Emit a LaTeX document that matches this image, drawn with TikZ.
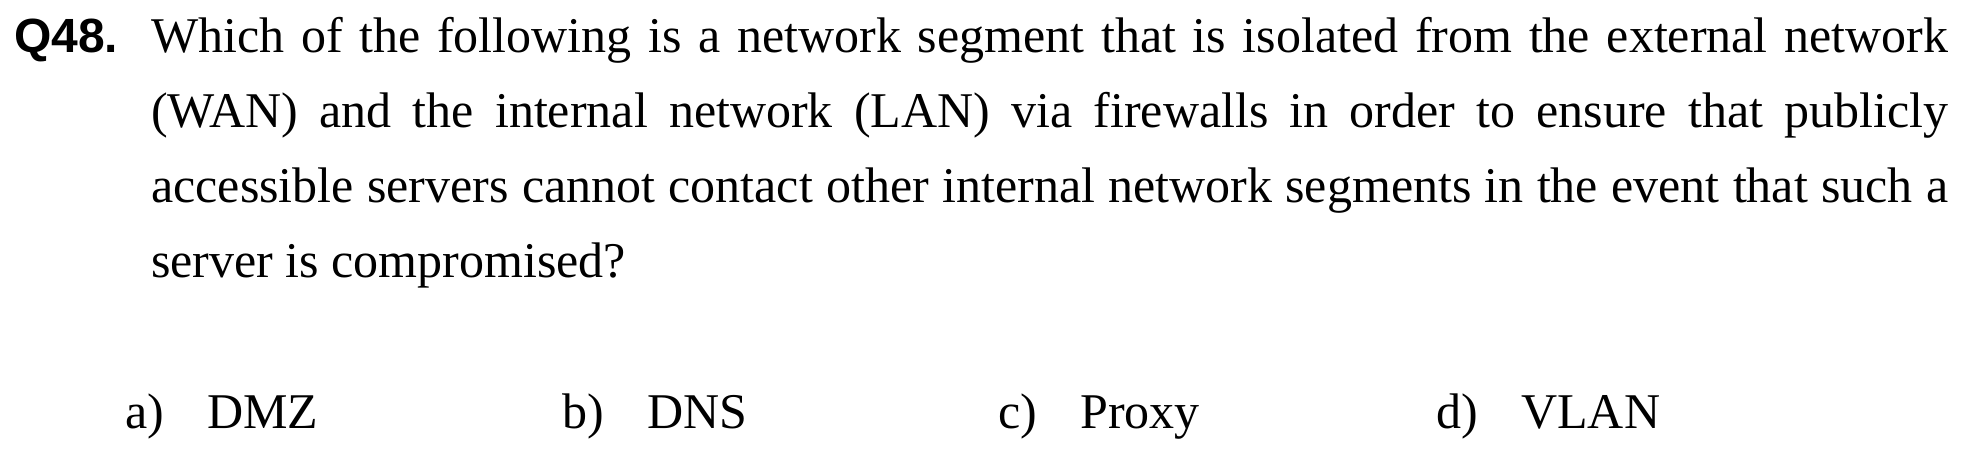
\documentclass[tikz,border=0pt]{standalone}
\usepackage{fontspec}
\setmainfont{Liberation Serif}
\newfontfamily\qfont{Liberation Sans}
\usetikzlibrary{positioning}

\tikzset{
  question/.style={inner sep=0pt, anchor=base west, text width=1797pt, align=justify,
    font=\fontsize{50}{75}\selectfont},
  qnum/.style={inner sep=0pt, anchor=base west, font=\qfont\bfseries\fontsize{48}{58}\selectfont},
  choice/.style={inner sep=0pt, anchor=base west, font=\fontsize{50}{60}\selectfont}
}

\begin{document}
\begin{tikzpicture}[node distance=43pt]
    \useasboundingbox (0,0) rectangle (1967pt,-455pt);
    \node[qnum] (qn) at (14pt,-52pt) {Q48.};
    \node[question] (qtext) at (151pt,-52pt) {Which of the following is a network segment that is isolated from the external network\linebreak
        (WAN) and the internal network (LAN) via firewalls in order to ensure that publicly\linebreak
        accessible servers cannot contact other internal network segments in the event that such a\linebreak
        server is compromised?};
    % answer choices
    \node[choice] (la) at (125pt,-428pt) {a)};
    \node[choice, base right=of la] (ta) {DMZ};
    \node[choice] (lb) at (562pt,-428pt) {b)};
    \node[choice, base right=of lb] (tb) {DNS};
    \node[choice] (lc) at (998pt,-428pt) {c)};
    \node[choice, base right=of lc] (tc) {Proxy};
    \node[choice] (ld) at (1436pt,-428pt) {d)};
    \node[choice, base right=of ld] (td) {VLAN};
\end{tikzpicture}
\end{document}
